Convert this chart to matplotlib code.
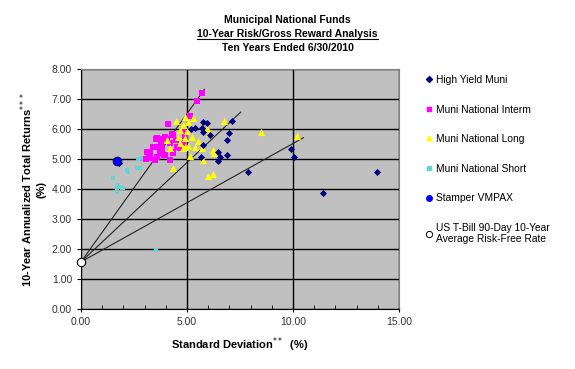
import matplotlib
matplotlib.use("Agg")
import matplotlib.pyplot as plt
from matplotlib.lines import Line2D
from matplotlib.ticker import MultipleLocator, FormatStrFormatter

plt.rcParams['font.family'] = ['Liberation Sans', 'DejaVu Sans']

# ---- data (std dev %, 10-yr return %) ----
hy_x = [5.77, 5.93, 5.38, 5.72, 5.77, 7.11, 7.00, 6.87, 5.77, 6.48, 6.56, 6.90, 6.45, 5.66,
        7.86, 11.43, 9.89, 10.05, 13.98, 6.08, 5.20, 1.80]
hy_y = [6.22, 6.19, 6.04, 6.04, 5.91, 6.28, 5.86, 5.63, 5.47, 5.24, 5.08, 5.13, 4.93, 5.08,
        4.57, 3.88, 5.32, 5.07, 4.57, 5.80, 6.00, 4.88]

int_x = [5.69, 5.47, 5.16, 4.12, 4.31, 3.54, 3.76, 4.04, 4.20, 4.48, 4.83, 3.54, 3.81, 3.25,
         3.60, 3.96, 4.20, 3.49, 4.51, 4.35, 4.91, 4.83, 4.67, 3.96, 3.73, 3.25, 3.11, 3.40,
         3.07, 3.57, 3.88, 3.22, 3.92, 4.35, 3.73, 4.35]
int_y = [7.19, 6.92, 6.43, 6.16, 5.83, 5.66, 5.57, 5.68, 5.52, 5.63, 5.97, 5.39, 5.32, 5.19,
         5.06, 5.13, 4.97, 4.97, 5.39, 5.24, 5.77, 5.52, 5.36, 5.74, 5.19, 5.02, 5.23, 5.40,
         5.00, 5.69, 5.66, 5.19, 5.13, 5.19, 5.41, 5.80]

long_x = [4.91, 4.48, 5.06, 4.83, 4.67, 4.99, 5.96, 6.05, 6.75, 4.59, 4.91, 5.22, 5.53, 4.67,
          5.06, 5.38, 4.20, 4.80, 4.91, 5.69, 5.14, 5.77, 6.24, 6.27, 4.33, 6.00, 6.24, 5.27,
          4.04, 8.48, 10.17]
long_y = [6.39, 6.28, 6.24, 6.13, 5.97, 5.94, 6.02, 5.88, 6.28, 5.74, 5.69, 5.72, 5.61, 5.52,
          5.43, 5.39, 5.38, 5.36, 5.39, 5.36, 5.10, 4.97, 5.30, 5.19, 4.71, 4.43, 4.50, 6.36,
          5.63, 5.91, 5.77]

short_x = [2.70, 2.86, 2.63, 2.23, 1.52, 1.76, 2.00, 1.68, 1.92, 1.71, 2.16, 2.78, 3.54]
short_y = [4.99, 5.02, 4.69, 4.58, 4.36, 4.13, 4.02, 4.02, 4.02, 3.91, 4.63, 4.69, 1.97]

stamper_x = [1.70]
stamper_y = [4.95]

rf_x = [0.0]
rf_y = [1.57]

# capital-market-line end points (lines start at the risk-free point)
cml_end_x = [5.82, 7.53, 10.49]
cml_end_y = [7.32, 6.56, 5.71]

labels = ["High Yield Muni", "Muni National Interm", "Muni National Long",
          "Muni National Short", "Stamper VMPAX",
          "US T-Bill 90-Day 10-Year\nAverage Risk-Free Rate"]

fig = plt.figure(figsize=(5.75, 3.69), dpi=100)
ax = fig.add_axes([81/575, 1-309/369, (399-81)/575, (309-69)/369])
ax.set_facecolor('#C0C0C0')

ax.set_xlim(0, 15)
ax.set_ylim(0, 8)
ax.xaxis.set_major_locator(MultipleLocator(5))
ax.xaxis.set_minor_locator(MultipleLocator(1))
ax.yaxis.set_major_locator(MultipleLocator(1))
ax.xaxis.set_major_formatter(FormatStrFormatter('%.2f'))
ax.yaxis.set_major_formatter(FormatStrFormatter('%.2f'))
ax.grid(True, which='major', color='black', linewidth=1.0)
ax.set_axisbelow(True)
ax.tick_params(axis='both', which='major', labelsize=7.5, labelcolor='#333333',
               direction='out', length=3, color='black')
ax.tick_params(axis='x', which='major', direction='inout', length=5)
ax.tick_params(axis='x', which='minor', direction='in', length=3, color='black')
for s in ['top', 'right']:
    ax.spines[s].set_color('#808080')
for s in ['left', 'bottom']:
    ax.spines[s].set_color('black')

for ex, ey in zip(cml_end_x, cml_end_y):
    ax.plot([rf_x[0], ex], [rf_y[0], ey], color='#222222', linewidth=0.8, zorder=2)

ax.scatter(short_x, short_y, marker='s', s=10, color='#66D2D2', linewidths=0, zorder=3)
ax.scatter(int_x, int_y, marker='s', s=20, color='#FF00FF', linewidths=0, zorder=3)
ax.scatter(long_x, long_y, marker='^', s=26, color='#FFFF00', linewidths=0, zorder=4)
ax.scatter(hy_x, hy_y, marker='D', s=13, color='#000080', linewidths=0, zorder=5)
ax.scatter(stamper_x, stamper_y, marker='o', s=40, color='#0000FF',
           edgecolors='#000040', linewidths=0.6, zorder=6)
ax.scatter(rf_x, rf_y, marker='o', s=36, color='white', edgecolors='black',
           linewidths=0.8, zorder=7, clip_on=False)

ax.set_xlabel("Standard Deviation$^{**}$  (%)", fontsize=8, fontweight='bold', labelpad=6)
ax.set_ylabel("10-Year Annualized Total Returns$^{***}$\n(%)", fontsize=8,
              fontweight='bold', labelpad=4, linespacing=1.1)

# title
fig.text(0.5, 1-20/369, "Municipal National Funds", ha='center', va='center',
         fontsize=7.5, fontweight='bold')
t2 = fig.text(0.5, 1-34/369, "10-Year Risk/Gross Reward Analysis", ha='center', va='center',
              fontsize=7.5, fontweight='bold')
fig.canvas.draw()
bb = t2.get_window_extent()
W, H = fig.bbox.width, fig.bbox.height
fig.add_artist(Line2D([bb.x0 / W, bb.x1 / W], [(bb.y0 + 0.5) / H, (bb.y0 + 0.5) / H],
                      color='black', linewidth=0.8))
fig.text(0.5, 1-48/369, "Ten Years Ended 6/30/2010", ha='center', va='center',
         fontsize=7.5, fontweight='bold')

handles = [
    Line2D([], [], marker='D', linestyle='none', color='#000080', markersize=3),
    Line2D([], [], marker='s', linestyle='none', color='#FF00FF', markersize=3.5),
    Line2D([], [], marker='^', linestyle='none', color='#FFFF00', markersize=3.5),
    Line2D([], [], marker='s', linestyle='none', color='#66D2D2', markersize=3),
    Line2D([], [], marker='o', linestyle='none', color='#0000FF', markersize=4),
    Line2D([], [], marker='o', linestyle='none', markerfacecolor='white',
           markeredgecolor='black', markersize=4.5, markeredgewidth=0.7),
]
fig.legend(handles, labels, loc='upper left', bbox_to_anchor=(426/575, 1-75/369),
           frameon=False, fontsize=7.4, labelspacing=1.9, handlelength=0.6,
           handletextpad=0.4, borderaxespad=0, borderpad=0)

fig.savefig("out.png", dpi=100)
